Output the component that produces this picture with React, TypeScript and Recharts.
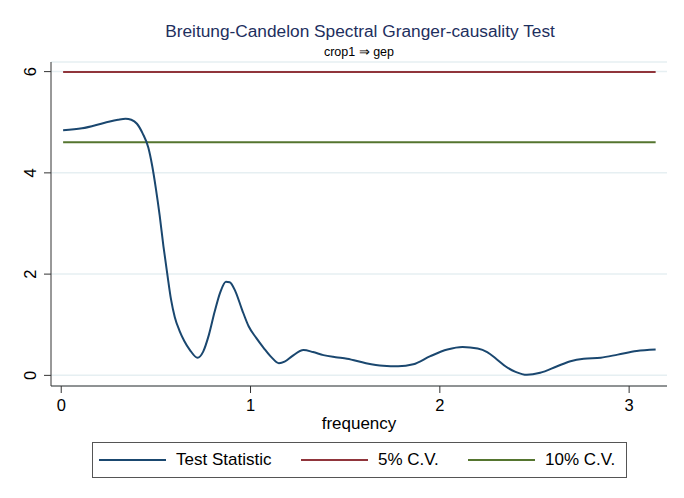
import React from "react";
import { LineChart, Line, XAxis, YAxis, CartesianGrid } from "recharts";

// frequency grid (radians) and Breitung-Candelon test statistic
const freq = [
  0.01, 0.11, 0.23, 0.3, 0.34, 0.37, 0.4, 0.43, 0.46, 0.48, 0.5, 0.52, 0.54, 0.56, 0.58, 0.6,
  0.625, 0.65, 0.68, 0.72, 0.75, 0.78, 0.81, 0.84, 0.87, 0.89, 0.92, 0.955, 0.99, 1.03, 1.07, 1.11,
  1.15, 1.18, 1.22, 1.28, 1.33, 1.385, 1.45, 1.51, 1.61, 1.7, 1.78, 1.86, 1.95, 2.04, 2.12, 2.2,
  2.25, 2.3, 2.35, 2.4, 2.46, 2.53, 2.62, 2.69, 2.76, 2.85, 2.94, 3.04, 3.14,
];
const testStat = [
  4.84, 4.88, 4.99, 5.05, 5.07, 5.05, 4.97, 4.78, 4.5, 4.15, 3.69, 3.16, 2.55, 2.01, 1.5, 1.15,
  0.88, 0.68, 0.5, 0.35, 0.47, 0.8, 1.25, 1.64, 1.85, 1.84, 1.66, 1.3, 0.97, 0.74, 0.54, 0.36,
  0.24, 0.27, 0.38, 0.5, 0.46, 0.4, 0.36, 0.33, 0.24, 0.19, 0.18, 0.22, 0.38, 0.51, 0.56, 0.53,
  0.46, 0.32, 0.17, 0.07, 0.01, 0.05, 0.18, 0.28, 0.33, 0.35, 0.41, 0.48, 0.51,
];
const cv5 = 5.991;
const cv10 = 4.605;

const xTicks = [0, 1, 2, 3];
const yTicks = [0, 2, 4, 6];

const legendItems = [
  { label: "Test Statistic", color: "#1a476f" },
  { label: "5% C.V.", color: "#90353b" },
  { label: "10% C.V.", color: "#55752f" },
];

const rows = freq.map((f, i) => ({ f, stat: testStat[i], cv5, cv10 }));

const FONT = "'Liberation Sans', Arial, sans-serif";
const AXIS = "#333";

function XTick({ x, y, payload }: any) {
  return (
    <text x={x} y={y} dy="0.71em" textAnchor="middle" fontSize={16.5} fill="#000" fontFamily={FONT}>
      {payload.value}
    </text>
  );
}

function YTick({ x, y, payload }: any) {
  return (
    <text
      x={x}
      y={y}
      textAnchor="middle"
      fontSize={16.5}
      fill="#000"
      fontFamily={FONT}
      transform={`rotate(-90, ${x}, ${y})`}
    >
      {payload.value}
    </text>
  );
}

export default function App() {
  return (
    <div style={{ position: "absolute", left: 0, top: 0, width: 684, height: 498, background: "#fff", fontFamily: FONT }}>
      <div style={{ position: "absolute", left: 0, width: 720, top: 21, textAlign: "center", fontSize: 17.3, color: "#1e2f5e" }}>
        Breitung-Candelon Spectral Granger-causality Test
      </div>
      <div style={{ position: "absolute", left: 0, width: 718, top: 44, textAlign: "center", fontSize: 12.5, color: "#000" }}>
        crop1 ⇒ gep
      </div>
      <LineChart width={684} height={498} data={rows} margin={{ top: 62, right: 17, bottom: 82, left: 0 }}>
        <CartesianGrid horizontal vertical={false} stroke="#e6eff2" strokeWidth={1.5} />
        <XAxis
          dataKey="f"
          type="number"
          domain={[-0.054, 3.2]}
          ticks={xTicks}
          allowDataOverflow
          height={30}
          tickSize={7}
          tickMargin={6}
          stroke={AXIS}
          tick={<XTick />}
        />
        <YAxis
          type="number"
          domain={[-0.21, 6.19]}
          ticks={yTicks}
          allowDataOverflow
          width={51}
          tickSize={7}
          tickMargin={8}
          stroke={AXIS}
          tick={<YTick />}
        />
        <Line dataKey="cv5" stroke="#90353b" strokeWidth={2} dot={false} isAnimationActive={false} />
        <Line dataKey="cv10" stroke="#55752f" strokeWidth={2} dot={false} isAnimationActive={false} />
        <Line type="monotone" dataKey="stat" stroke="#1a476f" strokeWidth={2} dot={false} isAnimationActive={false} />
      </LineChart>
      <div style={{ position: "absolute", left: 0, width: 718, top: 414, textAlign: "center", fontSize: 17, color: "#000" }}>
        frequency
      </div>
      <div
        style={{
          position: "absolute",
          left: 92,
          top: 442,
          width: 533,
          height: 34,
          border: "1px solid #555",
          boxSizing: "content-box",
        }}
      >
        {legendItems.map((it, i) => {
          const lefts = [6, 208, 375];
          return (
            <div key={it.label} style={{ position: "absolute", left: lefts[i], top: 0, height: 34, display: "flex", alignItems: "center" }}>
              <svg width={67} height={4}>
                <line x1={0} y1={2} x2={67} y2={2} stroke={it.color} strokeWidth={2} />
              </svg>
              <span style={{ marginLeft: 10, fontSize: 17, color: "#000", whiteSpace: "nowrap" }}>{it.label}</span>
            </div>
          );
        })}
      </div>
    </div>
  );
}
